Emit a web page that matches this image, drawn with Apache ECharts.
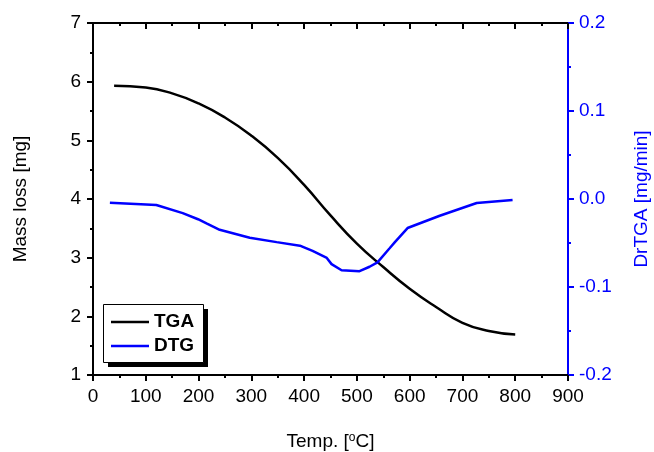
<!DOCTYPE html>
<html>
<head>
<meta charset="utf-8">
<script src="https://cdn.jsdelivr.net/npm/echarts@6/dist/echarts.min.js"></script>
<style>
html,body{margin:0;padding:0;background:#fff;}
#chart{width:654px;height:452px;}
</style>
</head>
<body>
<div id="chart"></div>
<script>
const tgaTemps = [40, 100, 150, 200, 250, 300, 350, 400, 450, 500, 550, 600, 650, 700, 750, 800];
const tgaMass = [5.93, 5.90, 5.80, 5.63, 5.39, 5.08, 4.70, 4.24, 3.72, 3.24, 2.84, 2.47, 2.16, 1.89, 1.75, 1.69];

const dtgTemps = [32, 120, 170, 199, 216, 240, 297, 348, 392, 416, 443, 452, 471, 505, 524, 539, 562, 572, 596, 657, 727, 795];
const dtgRate = [-0.0042, -0.0068, -0.016, -0.023, -0.028, -0.035, -0.044, -0.049, -0.053, -0.059, -0.067, -0.074, -0.081, -0.082, -0.077, -0.072, -0.056, -0.049, -0.033, -0.019, -0.0045, -0.001];

const xTicks = {min: 0, max: 900, interval: 100};
const yLeftTicks = {min: 1, max: 7, interval: 1};
const yRightTicks = {min: -0.2, max: 0.2, interval: 0.1};

const FONT = 'Liberation Sans';
const FS = 19;
const BLUE = '#0000ff';

const chart = echarts.init(document.getElementById('chart'), null, {renderer: 'canvas'});
chart.setOption({
  animation: false,
  backgroundColor: '#fff',
  grid: {left: 93, right: 86, top: 23, bottom: 77, containLabel: false, outerBoundsMode: 'none'},
  graphic: [
    {type: 'rect', z: 5, shape: {x: 108, y: 309, width: 100, height: 58}, style: {fill: '#000'}},
    {type: 'rect', z: 6, shape: {x: 103.5, y: 304.5, width: 100, height: 58}, style: {fill: '#fff', stroke: '#000', lineWidth: 1}}
  ],
  legend: {
    z: 10,
    orient: 'vertical',
    left: 111, top: 312,
    padding: 0,
    itemGap: 4,
    itemWidth: 38, itemHeight: 2.5,
    icon: 'rect',
    textStyle: {fontFamily: FONT, fontSize: FS, fontWeight: 'bold', color: '#000', lineHeight: 20},
    data: ['TGA', 'DTG']
  },
  xAxis: [{
    type: 'value', position: 'bottom',
    min: xTicks.min, max: xTicks.max, interval: xTicks.interval,
    name: 'Temp. [{s|o}C]', nameLocation: 'middle', nameGap: 57,
    nameTextStyle: {fontFamily: FONT, fontSize: FS, color: '#000',
      rich: {s: {fontFamily: FONT, fontSize: 12, verticalAlign: 'top', padding: [0, 0, 8, 0], color: '#000'}}},
    axisLine: {show: true, onZero: false, lineStyle: {color: '#000', width: 2}},
    axisTick: {show: true, inside: false, length: 6, lineStyle: {color: '#000', width: 2}},
    minorTick: {show: true, splitNumber: 2, length: 3, lineStyle: {color: '#000', width: 2}},
    axisLabel: {fontFamily: FONT, fontSize: FS, color: '#000', margin: 12},
    splitLine: {show: false}
  }, {
    type: 'value', position: 'top',
    min: xTicks.min, max: xTicks.max, interval: xTicks.interval,
    axisLine: {show: true, onZero: false, lineStyle: {color: '#000', width: 2}},
    axisTick: {show: true, inside: true, length: 6, lineStyle: {color: '#000', width: 2}},
    minorTick: {show: true, splitNumber: 2, length: 3, lineStyle: {color: '#000', width: 2}},
    axisLabel: {show: false},
    splitLine: {show: false}
  }],
  yAxis: [{
    type: 'value', position: 'left',
    min: yLeftTicks.min, max: yLeftTicks.max, interval: yLeftTicks.interval,
    name: 'Mass loss [mg]', nameLocation: 'middle', nameGap: 63, nameRotate: 90,
    nameTextStyle: {fontFamily: FONT, fontSize: FS, color: '#000'},
    axisLine: {show: true, onZero: false, lineStyle: {color: '#000', width: 2}},
    axisTick: {show: true, inside: false, length: 6, lineStyle: {color: '#000', width: 2}},
    minorTick: {show: true, splitNumber: 2, length: 3, lineStyle: {color: '#000', width: 2}},
    axisLabel: {fontFamily: FONT, fontSize: FS, color: '#000', margin: 12},
    splitLine: {show: false}
  }, {
    type: 'value', position: 'right',
    min: yRightTicks.min, max: yRightTicks.max, interval: yRightTicks.interval,
    name: 'DrTGA [mg/min]', nameLocation: 'middle', nameGap: 64, nameRotate: 90,
    nameTextStyle: {fontFamily: FONT, fontSize: FS, color: BLUE},
    axisLine: {show: true, onZero: false, lineStyle: {color: BLUE, width: 2}},
    axisTick: {show: true, inside: false, length: 6, lineStyle: {color: BLUE, width: 2}},
    minorTick: {show: true, splitNumber: 2, length: 3, lineStyle: {color: BLUE, width: 2}},
    axisLabel: {fontFamily: FONT, fontSize: FS, color: BLUE, margin: 11,
      formatter: v => v.toFixed(1)},
    splitLine: {show: false}
  }],
  series: [{
    name: 'TGA', type: 'line', xAxisIndex: 0, yAxisIndex: 0,
    symbol: 'none', smooth: true,
    lineStyle: {color: '#000', width: 2.5}, itemStyle: {color: '#000'},
    data: tgaTemps.map((t, i) => [t, tgaMass[i]])
  }, {
    name: 'DTG', type: 'line', xAxisIndex: 0, yAxisIndex: 1,
    symbol: 'none', smooth: false,
    lineStyle: {color: BLUE, width: 2.5}, itemStyle: {color: BLUE},
    data: dtgTemps.map((t, i) => [t, dtgRate[i]])
  }]
});
</script>
</body>
</html>
